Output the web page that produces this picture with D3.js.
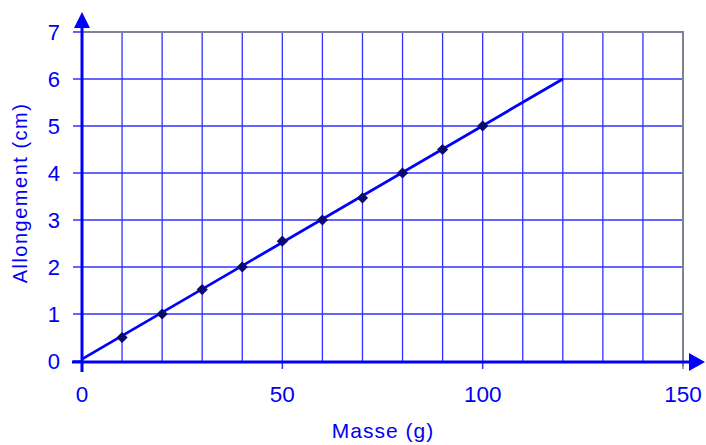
<!DOCTYPE html>
<html>
<head>
<meta charset="utf-8">
<script src="https://cdn.jsdelivr.net/npm/d3@7"></script>
<style>
  body { margin: 0; background: #fff; }
  svg { display: block; font-family: "Liberation Sans", Arial, sans-serif; }
</style>
</head>
<body>
<svg width="706" height="445"></svg>
<script>
// data
const masses = [10, 20, 30, 40, 50, 60, 70, 80, 90, 100];
const allongements = [0.5, 1, 1.52, 2, 2.55, 3, 3.47, 4, 4.5, 5];
const fitLine = [[0, 0.04], [120, 6]];
const xTicks = [0, 50, 100, 150];
const yTicks = [0, 1, 2, 3, 4, 5, 6, 7];

const blue = "#0000ff";
const gridBlue = "#3030ff";
const textBlue = "#0000f5";

let svg = d3.select("svg");

let x = d3.scaleLinear().domain([0, 150]).range([82, 683]);
let y = d3.scaleLinear().domain([0, 7]).range([361, 32]);

// grid
let grid = svg.append("g");
grid.selectAll(".vgrid")
    .data(d3.range(10, 150, 10))
    .enter()
    .append("line")
    .attr("x1", d => x(d)).attr("x2", d => x(d))
    .attr("y1", y(0)).attr("y2", y(7))
    .attr("stroke", gridBlue)
    .attr("stroke-width", 1.3);

grid.selectAll(".hgrid")
    .data(d3.range(1, 7))
    .enter()
    .append("line")
    .attr("x1", x(0)).attr("x2", x(150))
    .attr("y1", d => y(d)).attr("y2", d => y(d))
    .attr("stroke", gridBlue)
    .attr("stroke-width", 1.3);

// gray frame top / right
svg.append("path")
    .attr("d", `M${x(0)},${y(7)}H${x(150)}V${y(0) + 6}`)
    .attr("fill", "none")
    .attr("stroke", "#80809a")
    .attr("stroke-width", 2);

// y axis ticks
svg.selectAll(".ytick")
    .data(yTicks)
    .enter()
    .append("line")
    .attr("x1", x(0) - 9).attr("x2", x(0))
    .attr("y1", d => y(d)).attr("y2", d => y(d))
    .attr("stroke", gridBlue)
    .attr("stroke-width", 1.5);

svg.selectAll(".ylabel")
    .data(yTicks)
    .enter()
    .append("text")
    .attr("x", 60)
    .attr("y", d => y(d) + 8)
    .attr("text-anchor", "end")
    .attr("font-size", 22)
    .attr("fill", textBlue)
    .text(d => d);

// x axis ticks
svg.selectAll(".xtick")
    .data(xTicks)
    .enter()
    .append("line")
    .attr("x1", d => x(d)).attr("x2", d => x(d))
    .attr("y1", y(0)).attr("y2", y(0) + 8)
    .attr("stroke", d => d == 150 ? "#80809a" : gridBlue)
    .attr("stroke-width", 1.5);

svg.selectAll(".xlabel")
    .data(xTicks)
    .enter()
    .append("text")
    .attr("x", d => x(d))
    .attr("y", 402)
    .attr("text-anchor", "middle")
    .attr("font-size", 22.5)
    .attr("fill", textBlue)
    .text(d => d);

// axes with arrows
svg.append("line")
    .attr("x1", 72).attr("x2", 690)
    .attr("y1", y(0) + 1).attr("y2", y(0) + 1)
    .attr("stroke", blue)
    .attr("stroke-width", 3);
svg.append("path")
    .attr("d", `M689,${y(0) - 8}L705,${y(0) + 1}L689,${y(0) + 10}Z`)
    .attr("fill", blue);

svg.append("line")
    .attr("x1", x(0)).attr("x2", x(0))
    .attr("y1", y(0) + 11).attr("y2", 26)
    .attr("stroke", blue)
    .attr("stroke-width", 3);
svg.append("path")
    .attr("d", `M${x(0) - 8},28L${x(0)},12L${x(0) + 8},28Z`)
    .attr("fill", blue);

// fitted line
svg.append("path")
    .datum(fitLine)
    .attr("d", d3.line().x(d => x(d[0])).y(d => y(d[1])))
    .attr("fill", "none")
    .attr("stroke", blue)
    .attr("stroke-width", 2.8);

// data markers
svg.selectAll(".pt")
    .data(masses)
    .enter()
    .append("path")
    .attr("class", "pt")
    .attr("d", d3.symbol().type(d3.symbolDiamond2).size(80))
    .attr("transform", (d, i) => `translate(${x(d)},${y(allongements[i])})`)
    .attr("fill", "#0a0a70");

// axis titles
svg.append("text")
    .attr("x", 383)
    .attr("y", 438)
    .attr("text-anchor", "middle")
    .attr("font-size", 21)
    .attr("letter-spacing", 1)
    .attr("fill", textBlue)
    .text("Masse (g)");

svg.append("text")
    .attr("transform", "translate(27,193) rotate(-90)")
    .attr("text-anchor", "middle")
    .attr("font-size", 20)
    .attr("letter-spacing", 1.5)
    .attr("fill", textBlue)
    .text("Allongement (cm)");
</script>
</body>
</html>
